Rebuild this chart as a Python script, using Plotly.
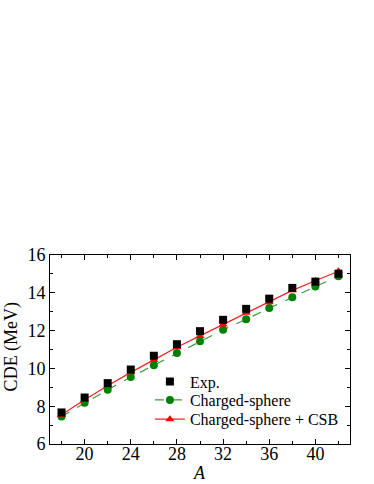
import plotly.graph_objects as go

A = [18, 20, 22, 24, 26, 28, 30, 32, 34, 36, 38, 40, 42]
exp_cde = [7.67, 8.46, 9.22, 9.94, 10.67, 11.28, 11.97, 12.57, 13.15, 13.69, 14.26, 14.59, 15.01]
sphere_cde = [7.46, 8.18, 8.87, 9.54, 10.17, 10.81, 11.44, 12.04, 12.60, 13.20, 13.76, 14.33, 14.87]
csb_cde = [7.55, 8.34, 9.08, 9.79, 10.45, 11.12, 11.72, 12.32, 12.94, 13.50, 14.13, 14.64, 15.14]

x_ticks = [20, 24, 28, 32, 36, 40]
y_ticks = [6, 8, 10, 12, 14, 16]

FONT = "Liberation Serif"
X_RANGE = [17, 43]
Y_RANGE = [6, 16]

fig = go.Figure()
fig.add_trace(go.Scatter(
    x=A, y=sphere_cde, name="Charged-sphere", mode="lines+markers",
    line=dict(color="#3a9a3a", width=1.2, dash="dash"),
    marker=dict(symbol="circle", size=8, color="#008000"),
    legend="legend2",
))
fig.add_trace(go.Scatter(
    x=A, y=csb_cde, name="Charged-sphere + CSB", mode="lines+markers",
    line=dict(color="#ff2020", width=1.2),
    marker=dict(symbol="triangle-up", size=8, color="#ff0000"),
    legend="legend3",
))
fig.add_trace(go.Scatter(
    x=A, y=exp_cde, name="Exp.", mode="markers",
    marker=dict(symbol="square", size=8, color="#000000"),
    legend="legend",
))
# invisible helper trace so the label-only x axis is drawn
fig.add_trace(go.Scatter(x=[A[0]], y=[exp_cde[0]], xaxis="x2", mode="markers",
                         marker=dict(opacity=0), showlegend=False, hoverinfo="skip"))

axis_common = dict(
    showgrid=False, zeroline=False, showline=True, linecolor="black", linewidth=1,
    mirror="ticks", ticks="inside", ticklen=5, tickcolor="black",
    tickfont=dict(family=FONT, size=18, color="black"),
    automargin=False,
)
fig.update_layout(
    xaxis=dict(
        range=X_RANGE, tickvals=x_ticks, showticklabels=False,
        minor=dict(dtick=2, tick0=18, ticks="inside", ticklen=3, tickcolor="black"),
        **axis_common,
    ),
    xaxis2=dict(
        range=X_RANGE, tickvals=x_ticks, overlaying="x", anchor="free", position=0.018,
        side="bottom", showline=False, ticks="", showgrid=False, zeroline=False,
        tickfont=dict(family=FONT, size=18, color="black"), automargin=False,
    ),
    yaxis=dict(
        range=Y_RANGE, tickvals=y_ticks,
        minor=dict(dtick=1, tick0=6, ticks="inside", ticklen=3, tickcolor="black"),
        **axis_common,
    ),
)

leg_common = dict(
    x=0.333, xanchor="left", yanchor="middle",
    bgcolor="rgba(0,0,0,0)", borderwidth=0,
    font=dict(family=FONT, size=16, color="black"),
    itemwidth=30,
)

fig.update_layout(
    width=374, height=484,
    margin=dict(l=50, r=24, t=255, b=40),
    paper_bgcolor="white", plot_bgcolor="white",
    font=dict(family=FONT),
    hovermode=False,
    showlegend=True,
    legend=dict(y=0.3296, **leg_common),
    legend2=dict(y=0.2328, **leg_common),
    legend3=dict(y=0.1307, **leg_common),
    annotations=[
        dict(text="CDE (MeV)", xref="paper", yref="paper", x=-0.127, y=0.516,
             textangle=-90, showarrow=False, xanchor="center", yanchor="middle",
             font=dict(family=FONT, size=18, color="black")),
        dict(text="<i>A</i>", xref="paper", yref="paper", x=0.497, y=-0.156,
             showarrow=False, xanchor="center", yanchor="middle",
             font=dict(family=FONT, size=18, color="black")),
    ],
)

fig.write_html("out.html", config={"displayModeBar": False},
               post_script="document.body.style.margin='0';")
